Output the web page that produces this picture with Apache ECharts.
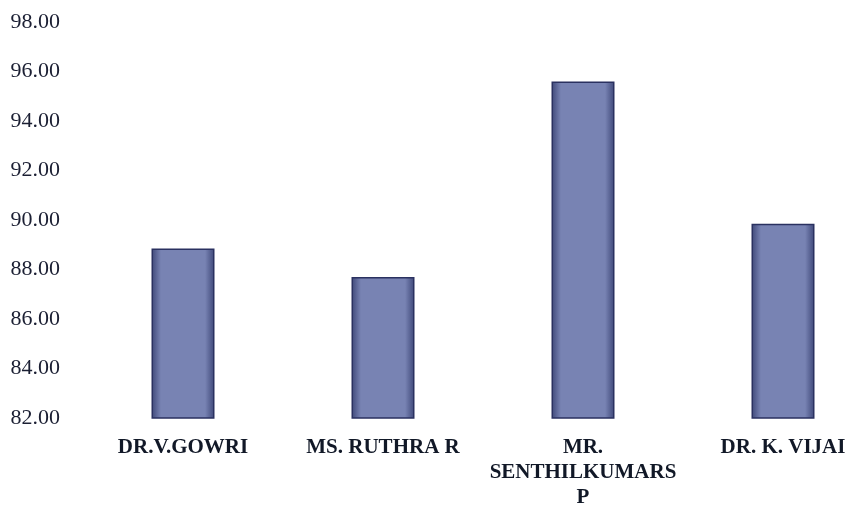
<!DOCTYPE html>
<html>
<head>
<meta charset="utf-8">
<script src="https://cdn.jsdelivr.net/npm/echarts@6/dist/echarts.min.js"></script>
<style>
  html, body { margin: 0; padding: 0; background: #fff; }
  #chart { width: 849px; height: 508px; }
</style>
</head>
<body>
<div id="chart"></div>
<script>
// 教师名称
const teachers = ['DR.V.GOWRI', 'MS. RUTHRA R', 'MR.\nSENTHILKUMARS\nP', 'DR. K. VIJAI'];
// 得分
const scores = [88.85, 87.7, 95.6, 89.85];
// y 轴范围
const yMin = 82;
const yMax = 98;
const yStep = 2;

const chart = echarts.init(document.getElementById('chart'));

chart.setOption({
  animation: false,
  grid: {
    left: 83,
    width: 800,
    top: 22,
    bottom: 90,
    outerBoundsMode: 'none',
    containLabel: false,
  },
  xAxis: {
    type: 'category',
    data: teachers,
    axisLine: { show: false },
    axisTick: { show: false },
    axisLabel: {
      interval: 0,
      margin: 17,
      color: '#111827',
      fontFamily: 'Liberation Serif',
      fontWeight: 'bold',
      fontSize: 21,
      lineHeight: 25,
    },
  },
  yAxis: {
    type: 'value',
    min: yMin,
    max: yMax,
    interval: yStep,
    axisLine: { show: false },
    axisTick: { show: false },
    splitLine: { show: false },
    axisLabel: {
      margin: 23,
      color: '#1b1f33',
      fontFamily: 'Liberation Serif',
      fontSize: 22,
      formatter: (v) => v.toFixed(2),
    },
  },
  series: [
    {
      type: 'bar',
      data: scores,
      barWidth: 63,
      itemStyle: {
        color: new echarts.graphic.LinearGradient(0, 0, 1, 0, [
          { offset: 0, color: '#3e4778' },
          { offset: 0.15, color: '#7883b3' },
          { offset: 0.85, color: '#7883b3' },
          { offset: 1, color: '#3e4778' },
        ]),
        borderColor: '#2a3160',
        borderWidth: 1.5,
      },
    },
  ],
});
</script>
</body>
</html>
